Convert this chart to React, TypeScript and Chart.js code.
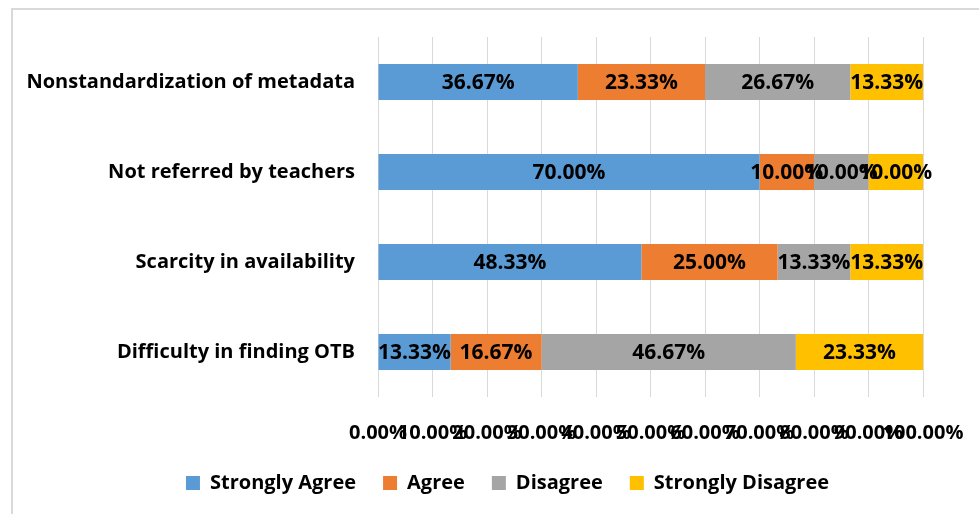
import React, { useEffect, useRef } from "react";
import { Chart, registerables } from "chart.js";

Chart.register(...registerables);

const categories = [
  "Nonstandardization of metadata",
  "Not referred by teachers",
  "Scarcity in availability",
  "Difficulty in finding OTB",
];
const seriesNames = ["Strongly Agree", "Agree", "Disagree", "Strongly Disagree"];
const stronglyAgree = [36.67, 70.0, 48.33, 13.33];
const agree = [23.33, 10.0, 25.0, 16.67];
const disagree = [26.67, 10.0, 13.33, 46.67];
const stronglyDisagree = [13.33, 10.0, 13.33, 23.33];
const seriesColors = ["#5B9BD5", "#ED7D31", "#A5A5A5", "#FFC000"];
const xMin = 0;
const xMax = 100;
const xStep = 10;

const FONT = "'Open Sans'";

const barLabels = {
  id: "barLabels",
  afterDatasetsDraw(chart: any) {
    const ctx = chart.ctx;
    ctx.save();
    ctx.font = `bold 21px ${FONT}`;
    ctx.fillStyle = "#000";
    ctx.textAlign = "center";
    ctx.textBaseline = "middle";
    chart.data.datasets.forEach((ds: any, i: number) => {
      const meta = chart.getDatasetMeta(i);
      meta.data.forEach((el: any, j: number) => {
        const v = ds.data[j];
        const p = el.getProps(["x", "base", "y"], true);
        ctx.fillText(v.toFixed(2) + "%", (p.x + p.base) / 2, p.y + 1);
      });
    });
    ctx.restore();
  },
};

const legendShift = {
  id: "legendShift",
  beforeDraw(chart: any) {
    const lg = chart.legend;
    if (lg) {
      lg.left = 92;
      lg.right = 923;
    }
  },
};

export default function App() {
  const ref = useRef<HTMLCanvasElement | null>(null);

  useEffect(() => {
    if (!ref.current) return;
    const allSeries = [stronglyAgree, agree, disagree, stronglyDisagree];
    const chart = new Chart(ref.current, {
      type: "bar",
      data: {
        labels: categories,
        datasets: allSeries.map((d, i) => ({
          label: seriesNames[i],
          data: d,
          backgroundColor: seriesColors[i],
          borderWidth: 0,
          barPercentage: 0.5,
          categoryPercentage: 0.8,
        })),
      },
      options: {
        indexAxis: "y",
        responsive: false,
        animation: false,
        layout: { padding: { left: 0, right: 56, top: 37, bottom: 11 } },
        plugins: {
          legend: {
            position: "bottom",
            labels: {
              boxWidth: 14,
              boxHeight: 14,
              padding: 27,
              color: "#000",
              font: { family: FONT, size: 20, weight: "bold" },
            },
          },
          tooltip: { enabled: false },
        },
        scales: {
          x: {
            stacked: true,
            min: xMin,
            max: xMax,
            afterFit: (s: any) => {
              s.height = 49;
              s.paddingLeft = 0;
              s.paddingRight = 0;
            },
            ticks: {
              stepSize: xStep,
              autoSkip: false,
              maxRotation: 0,
              minRotation: 0,
              padding: 24,
              color: "#000",
              font: { family: FONT, size: 20, weight: "bold" },
              callback: (v: any) => Number(v).toFixed(2) + "%",
            },
            grid: { color: "#d9d9d9", drawTicks: false },
            border: { display: false },
          },
          y: {
            stacked: true,
            afterFit: (s: any) => {
              s.width = 378;
              s.paddingTop = 0;
              s.paddingBottom = 0;
            },
            ticks: {
              padding: 23,
              color: "#000",
              font: { family: FONT, size: 20, weight: "bold" },
            },
            grid: { display: false, drawTicks: false },
            border: { display: false },
          },
        },
      },
      plugins: [barLabels, legendShift],
    });
    return () => chart.destroy();
  }, []);

  return (
    <div
      style={{
        position: "fixed",
        left: 0,
        top: 0,
        width: 979,
        height: 514,
        overflow: "hidden",
        background: "#fff",
      }}
    >
      <div
        style={{
          position: "absolute",
          left: 11,
          top: 8,
          width: 1000,
          height: 540,
          border: "2px solid #d9d9d9",
          boxSizing: "border-box",
        }}
      />
      <canvas
        ref={ref}
        width={979}
        height={514}
        style={{ position: "absolute", left: 0, top: 0 }}
      />
    </div>
  );
}
